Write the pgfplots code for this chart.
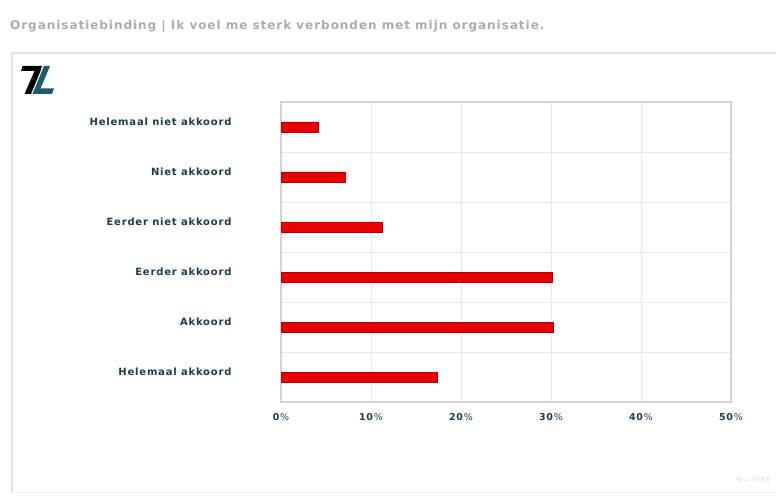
\documentclass[border=0pt]{standalone}
\usepackage{pgfplots}
\pgfplotsset{compat=1.18}
\usepackage{fontspec}
\setmainfont{DejaVu Sans}
\newfontfamily\spaced[LetterSpace=8]{DejaVu Sans}
\definecolor{labelink}{HTML}{1E3D4C}
\definecolor{titlegray}{HTML}{A9ADB0}
\definecolor{gridgray}{HTML}{E8E8E8}
\definecolor{framegray}{HTML}{D4D4D4}
\definecolor{panelgray}{HTML}{E2E2E2}
\definecolor{barred}{HTML}{E60000}
\definecolor{bardark}{HTML}{B40000}
\definecolor{logoteal}{HTML}{1F5A6B}
\begin{document}
\begin{tikzpicture}
  % page: 776pt x 496pt
  \path[use as bounding box, fill=white] (0pt,0pt) rectangle (776pt,496pt);
  % heading
  \node[anchor=west, text=titlegray, font=\spaced\fontsize{12}{14}\selectfont\bfseries, inner sep=0]
    at (10pt,470pt) {Organisatiebinding | Ik voel me sterk verbonden met mijn organisatie.};
  % panel
  \draw[panelgray, line width=1.2pt] (12pt,3pt) -- (12pt,443pt) -- (777pt,443pt);
  \draw[panelgray!60, line width=0.8pt] (12pt,4pt) -- (777pt,4pt);
  % logo
  \fill[black] (22.5pt,430pt) -- (42pt,430pt) -- (40.5pt,425pt) -- (31pt,402pt) -- (24.5pt,402pt)
    -- (34.5pt,425pt) -- (21pt,425pt) -- cycle;
  \fill[logoteal] (44pt,430pt) -- (50pt,430pt) -- (40.5pt,407.5pt) -- (54pt,407.5pt) -- (52pt,402pt)
    -- (32.5pt,402pt) -- cycle;
  \begin{axis}[
      at={(281pt,94pt)}, anchor=south west,
      scale only axis, width=450pt, height=300pt,
      xbar, bar width=10pt,
      xmin=0, xmax=50,
      ymin=-0.5, ymax=5.5,
      ytick={0,...,5},
      yticklabels={Helemaal akkoord, Akkoord, Eerder akkoord,
                   Eerder niet akkoord, Niet akkoord, Helemaal niet akkoord},
      minor ytick={0.5,1.5,...,4.5},
      xtick={0,10,...,50},
      xticklabels={\textbf{0}\%, \textbf{10}\%, \textbf{20}\%, \textbf{30}\%, \textbf{40}\%, \textbf{50}\%},
      xmajorgrids, yminorgrids,
      major grid style={gridgray, line width=0.8pt},
      minor grid style={gridgray, line width=0.8pt},
      major tick length=0pt, minor tick length=0pt,
      axis line style={framegray, line width=1.2pt},
      tick label style={text=labelink, font=\spaced\fontsize{10}{11}\selectfont\bfseries},
      yticklabel style={anchor=east, xshift=-46pt, yshift=5pt},
      xticklabel style={anchor=north, yshift=-8pt, font=\spaced\fontsize{9.5}{11}\selectfont},
      /pgf/number format/assume math mode=true,
    ]
    \addplot[fill=barred, draw=bardark, line width=0.6pt] coordinates {
      (17.4,0) (30.3,1) (30.1,2) (11.2,3) (7.1,4) (4.1,5)
    };
  \end{axis}
  % respondent count
  \node[anchor=east, text=black!14, font=\fontsize{7}{8}\selectfont, inner sep=0] at (770pt,16pt) {N = 1588};
\end{tikzpicture}
\end{document}
